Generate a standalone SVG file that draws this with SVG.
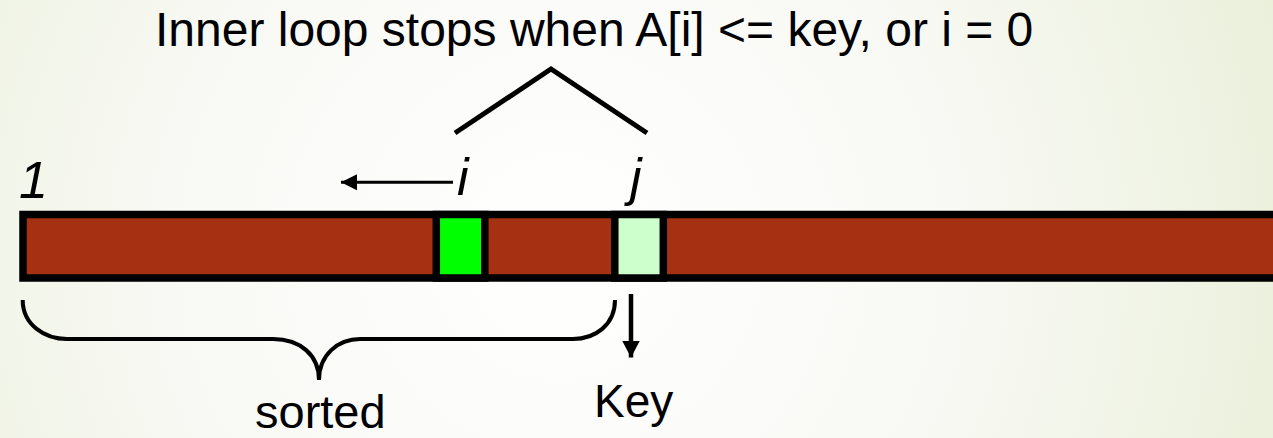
<svg xmlns="http://www.w3.org/2000/svg" width="1273" height="438" viewBox="0 0 1273 438">
<defs>
<radialGradient id="bg" cx="560" cy="250" r="800" gradientUnits="userSpaceOnUse">
<stop offset="0" stop-color="#ffffff"/>
<stop offset="0.5" stop-color="#f8f9f4"/>
<stop offset="1" stop-color="#e9efd8"/>
</radialGradient>
<marker id="ah" markerUnits="userSpaceOnUse" markerWidth="20" markerHeight="20" refX="16" refY="8" orient="auto">
<path d="M0,0 L16,8 L0,16 Z" fill="#000"/>
</marker>
<marker id="ahd" markerUnits="userSpaceOnUse" markerWidth="20" markerHeight="20" refX="17" refY="9" orient="auto">
<path d="M0,0 L17,9 L0,18 Z" fill="#000"/>
</marker>
</defs>
<style>
.t{font-family:"Liberation Sans",Arial,sans-serif;fill:#000}
.it{font-family:"Liberation Sans",Arial,sans-serif;font-style:italic;font-size:52px;fill:#000}
.cell{stroke:#000;stroke-width:7.5}
.ln{stroke:#000;fill:none}
</style>
<rect x="0" y="0" width="1273" height="438" fill="url(#bg)"/>
<text class="t" x="155" y="46" font-size="48">Inner loop stops when A[i] &lt;= key, or i = 0</text>
<g id="caret"><polyline class="ln" stroke-width="5" points="455,133 551,69 647,133"/></g>
<g id="label-1"><text class="it" x="19" y="198">1</text></g>
<g id="label-i"><text class="it" x="457" y="195">i</text></g>
<g id="label-j"><text class="it" x="630" y="195">j</text></g>
<g id="array"><rect class="cell" x="23" y="214.5" width="1270" height="63.5" fill="#a53012"/></g>
<g id="cell-i"><rect class="cell" x="436.3" y="214.5" width="48.5" height="63.5" fill="#00ff00"/></g>
<g id="cell-j"><rect class="cell" x="614.8" y="214.5" width="48.5" height="63.5" fill="#ccffcc"/></g>
<g id="connectors">
<line class="ln" stroke-width="3" x1="453" y1="182.3" x2="341" y2="182.3" marker-end="url(#ah)"/>
<line class="ln" stroke-width="4.5" x1="631" y1="294" x2="631" y2="357.5" marker-end="url(#ahd)"/>
<path class="ln" stroke-width="4" d="M22.7,300 C22.7,325 45,339 67,339 L273,339 C300,339 319,355 319,380 C319,355 338,339 360,339 L573,339 C595,339 615,325 615,300"/>
</g>
<g id="label-sorted"><text class="t" x="255" y="428" font-size="47">sorted</text></g>
<g id="label-key"><text class="t" x="594" y="417" font-size="46">Key</text></g>
</svg>
